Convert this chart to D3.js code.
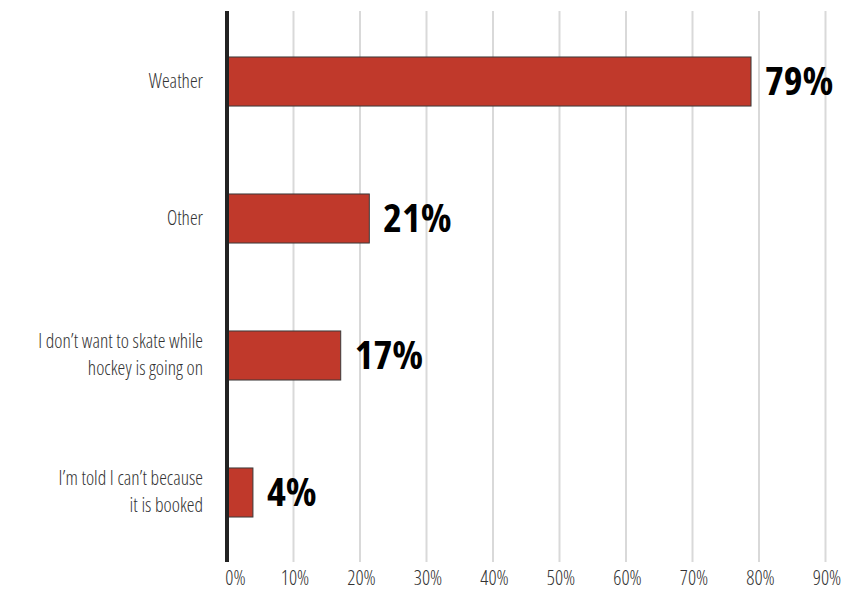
<!DOCTYPE html>
<html>
<head>
<meta charset="utf-8">
<script src="https://cdn.jsdelivr.net/npm/d3@7"></script>
<style>
  html, body { margin: 0; padding: 0; background: #fff; }
  svg { display: block; }
  .cat { font-family: "Open Sans", sans-serif; font-weight: 300; font-stretch: 75%; font-size: 19.5px; fill: #333; }
  .tick text { font-family: "Open Sans", sans-serif; font-weight: 300; font-stretch: 75%; font-size: 20px; fill: #333; }
  .val { font-family: "Open Sans", sans-serif; font-weight: 700; font-stretch: 75%; font-size: 40px; fill: #000; }
</style>
</head>
<body>
<script>
const categories = [
  ["Weather"],
  ["Other"],
  ["I don’t want to skate while", "hockey is going on"],
  ["I’m told I can’t because", "it is booked"]
];
const values = [78.8, 21.4, 17.1, 3.9];
const valueLabels = ["79%", "21%", "17%", "4%"];
const tickValues = [0, 10, 20, 30, 40, 50, 60, 70, 80, 90];
const tickLabels = ["0%", "10%", "20%", "30%", "40%", "50%", "60%", "70%", "80%", "90%"];

const W = 856, H = 592;
const margin = { left: 227, right: 31, top: 11, bottom: 30 };

const svg = d3.select("body").append("svg").attr("width", W).attr("height", H);

const x = d3.scaleLinear().domain([0, 90]).range([margin.left, margin.left + 9 * 66.5]);
const y = d3.scaleBand().domain(d3.range(categories.length))
  .range([margin.top, H - margin.bottom]).paddingInner(0.642).paddingOuter(0.332);

// gridlines
svg.append("g").selectAll("line").data(tickValues.filter(d => d > 0)).join("line")
  .attr("x1", d => x(d)).attr("x2", d => x(d))
  .attr("y1", margin.top).attr("y2", H - margin.bottom)
  .attr("stroke", "#d9d9d9").attr("stroke-width", 2);

// x axis labels
const xAxis = d3.axisBottom(x).tickValues(tickValues).tickFormat((d, i) => tickLabels[i]).tickSize(0).tickPadding(0);
const gx = svg.append("g").attr("transform", `translate(0,${H - margin.bottom})`).call(xAxis);
gx.select(".domain").remove();
gx.selectAll("text").attr("dy", "0.35em").attr("y", 16)
  .attr("dx", d => d === 0 ? 8 : 1);

// bars
svg.append("g").selectAll("rect").data(values).join("rect")
  .attr("x", x(0)).attr("y", (d, i) => y(i) + 0.5)
  .attr("width", d => x(d) - x(0)).attr("height", y.bandwidth())
  .attr("fill", "#c0392b").attr("stroke", "#3a3a3a").attr("stroke-width", 1);

// value labels
svg.append("g").selectAll("text").data(values).join("text")
  .attr("class", "val")
  .attr("x", d => x(d) + 14)
  .attr("y", (d, i) => y(i) + y.bandwidth() / 2)
  .attr("dy", "0.36em")
  .text((d, i) => valueLabels[i]);

// category labels
const cg = svg.append("g").selectAll("text").data(categories).join("text")
  .attr("class", "cat")
  .attr("text-anchor", "end")
  .attr("x", 203)
  .attr("y", (d, i) => y(i) + y.bandwidth() / 2);
cg.each(function(lines) {
  const t = d3.select(this);
  const lh = 27;
  const off = -(lines.length - 1) * lh / 2;
  lines.forEach((ln, j) => {
    t.append("tspan").attr("x", 203).attr("dy", j === 0 ? (off + 7) : lh).text(ln);
  });
});

// y axis line
svg.append("line")
  .attr("x1", x(0)).attr("x2", x(0))
  .attr("y1", margin.top).attr("y2", H - margin.bottom)
  .attr("stroke", "#222").attr("stroke-width", 4);
</script>
</body>
</html>
